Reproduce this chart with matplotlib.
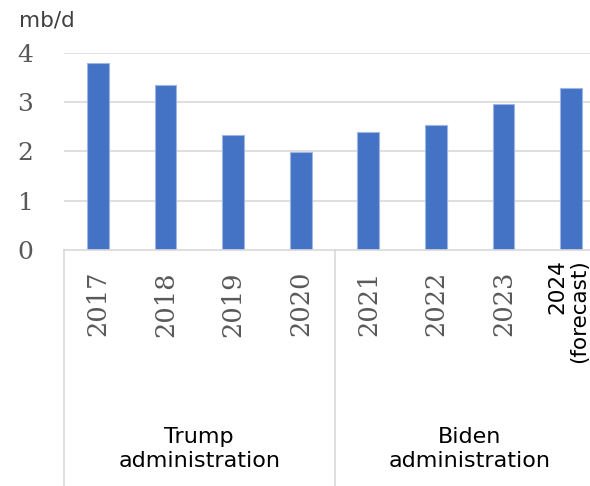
import matplotlib
matplotlib.use("Agg")
import matplotlib.pyplot as plt
import matplotlib.transforms as mtransforms

# Production figures (million barrels per day)
years = ["2017", "2018", "2019", "2020", "2021", "2022", "2023", "2024\n(forecast)"]
values = [3.8, 3.35, 2.34, 1.99, 2.40, 2.53, 2.97, 3.28]
groups = ["Trump\nadministration", "Biden\nadministration"]
group_sizes = [4, 4]
y_ticks = [0, 1, 2, 3, 4]
unit_label = "mb/d"

W, H, DPI = 590, 486, 100
fig = plt.figure(figsize=(W / DPI, H / DPI), dpi=DPI)

# axes spans a bit past the right edge so the last bar sits close to it
ax_left, ax_right = 64 / W, 605 / W
ax_bottom, ax_top = (H - 250) / H, (H - 53) / H
ax = fig.add_axes([ax_left, ax_bottom, ax_right - ax_left, ax_top - ax_bottom])

bar_color = "#4472C4"
grid_color = "#D9D9D9"
tick_color = "#595959"

x = list(range(len(years)))
ax.bar(x, values, width=0.32, color=bar_color, edgecolor="#9DB6E3",
       linewidth=0.8, zorder=3)

ax.set_xlim(-0.5, len(years) - 0.5)
ax.set_ylim(0, 4)
ax.set_yticks(y_ticks)
ax.set_yticklabels([str(t) for t in y_ticks], family="DejaVu Serif",
                   fontsize=18, color=tick_color, va="center_baseline")
ax.tick_params(axis="y", length=0, pad=22)
ax.set_xticks([])

for s in ["top", "right", "left"]:
    ax.spines[s].set_visible(False)
ax.spines["bottom"].set_color(grid_color)
ax.spines["bottom"].set_linewidth(1.2)
ax.spines["bottom"].set_zorder(4)

for t in y_ticks[1:]:
    ax.axhline(t, color=grid_color, linewidth=1.2, zorder=1)

trans = mtransforms.blended_transform_factory(ax.transData, ax.transAxes)
px = 1.0 / (ax_top - ax_bottom) / H  # one pixel in axes-fraction units

# year labels under each bar
for i, lab in enumerate(years):
    if "\n" in lab:
        ax.text(i - 0.04, -9 * px, lab, transform=trans, rotation=90,
                ha="center", va="top", multialignment="right",
                family="DejaVu Sans", fontsize=15.5, color="black",
                linespacing=1.1, clip_on=False)
    else:
        ax.text(i, -21 * px, lab, transform=trans, rotation=90,
                ha="center", va="top", family="DejaVu Serif",
                fontsize=18.5, color=tick_color, clip_on=False)

# group separators and group names
bottom_frac = -ax_bottom / (ax_top - ax_bottom)
start = 0
edges = [-0.5]
for g, n in zip(groups, group_sizes):
    end = start + n
    edges.append(end - 0.5)
    ax.text((start + end - 1) / 2, -199 * px, g, transform=trans,
            ha="center", va="center", family="DejaVu Sans", fontsize=16,
            color="black", linespacing=1.25, clip_on=False)
    start = end
for e in edges[:-1]:
    ax.plot([e, e], [0, bottom_frac], transform=trans, color=grid_color,
            linewidth=1.2, clip_on=False, zorder=2)

fig.text(19 / W, 1 - 27 / H, unit_label, family="DejaVu Sans", fontsize=15.5,
         color="#404040", ha="left", va="baseline")

fig.savefig("out.png", dpi=DPI)
